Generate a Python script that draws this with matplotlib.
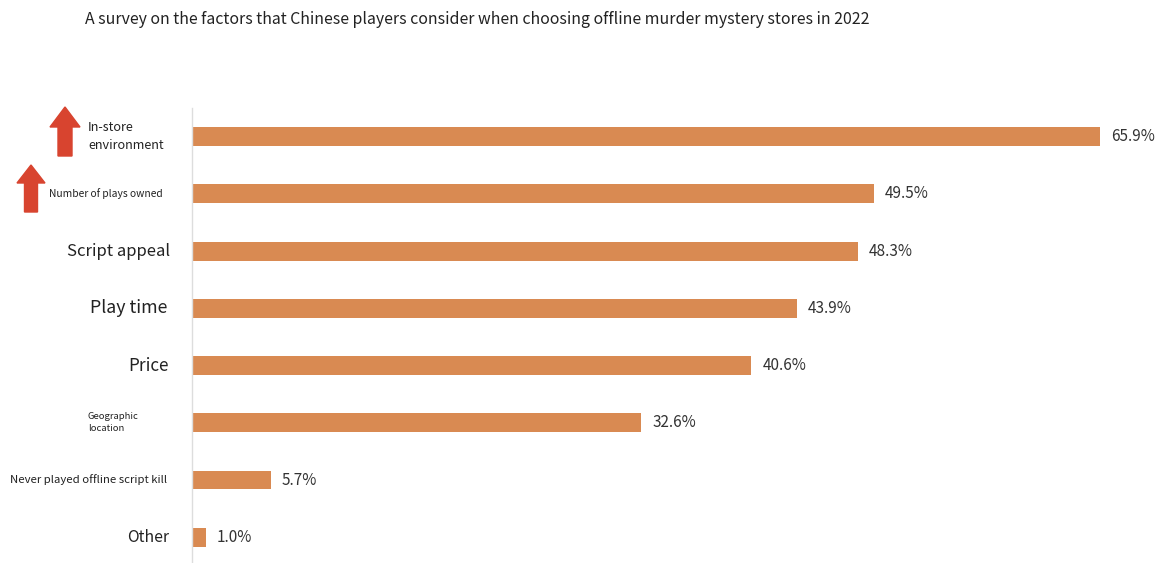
import matplotlib
matplotlib.use("Agg")
import matplotlib.pyplot as plt
from matplotlib.patches import FancyArrow

plt.rcParams['font.family'] = ['Noto Sans CJK SC', 'DejaVu Sans']

factors = ['In-store\nenvironment', 'Number of plays owned', 'Script appeal', 'Play time',
           'Price', 'Geographic\nlocation', 'Never played offline script kill', 'Other']
shares = [65.9, 49.5, 48.3, 43.9, 40.6, 32.6, 5.7, 1.0]
title = 'A survey on the factors that Chinese players consider when choosing offline murder mystery stores in 2022'

# label styling (x position in pixels, font size, alignment)
lab_x = [88, 163, 170, 167, 169, 88, 167, 169]
lab_fs = [9.1, 7.4, 12.0, 12.8, 12.3, 6.8, 8.2, 11.3]
lab_ha = ['left', 'right', 'right', 'right', 'right', 'left', 'right', 'right']

W, H = 1158, 563
fig = plt.figure(figsize=(W / 100, H / 100), dpi=100)
ax = fig.add_axes([192 / W, 0, (W - 192) / W, 1 - 108 / H])

bar_color = '#D98A52'
y = list(range(len(factors)))
ax.barh(y, shares, height=0.33, color=bar_color)
ax.set_ylim(len(factors) - 0.55, -0.5)
ax.set_xlim(0, 70.1)

for i, v in enumerate(shares):
    ax.text(v + 0.8, i, f'{v:.1f}%', va='center', ha='left', fontsize=11, color='#333333')

for spine in ['top', 'right', 'bottom']:
    ax.spines[spine].set_visible(False)
ax.spines['left'].set_color('#dddddd')
ax.spines['left'].set_linewidth(1)
ax.set_xticks([])
ax.set_yticks([])

# category labels placed in figure pixel space
for i, lab in enumerate(factors):
    yy = ax.transData.transform((0, i))[1] / H
    fig.text(lab_x[i] / W, yy, lab, ha=lab_ha[i], va='center',
             fontsize=lab_fs[i], color='#222222', linespacing=1.45)

fig.text(85 / W, 1 - 20 / H, title, ha='left', va='center', fontsize=11.45, color='#222222')

# red "rising" arrows next to the first two factors
arrows = [(65, 156, 107, 14, 30, 20), (31, 212, 165, 13, 28, 18)]
for ax_x, y0, y1, w, hw, hl in arrows:
    fig.patches.append(FancyArrow(ax_x / W, 1 - y0 / H, 0, (y0 - y1) / H,
                                  width=w / W, head_width=hw / W, head_length=hl / H,
                                  length_includes_head=True, color='#D8442F',
                                  transform=fig.transFigure, figure=fig))

fig.savefig('out.png', dpi=100, facecolor='white')
